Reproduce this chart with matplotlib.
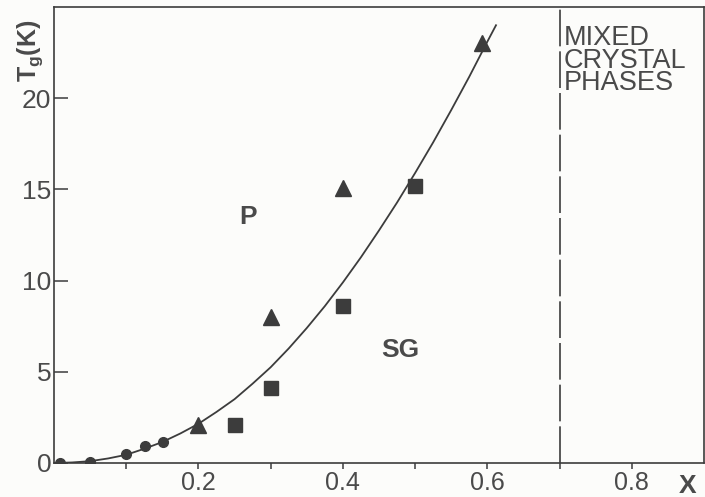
import matplotlib
matplotlib.use("Agg")
import matplotlib.pyplot as plt

# ---- data ----
circle_x = [0.008, 0.05, 0.10, 0.126, 0.151]
circle_y = [0.0, 0.05, 0.5, 0.95, 1.15]

triangle_x = [0.20, 0.30, 0.40, 0.592]
triangle_y = [2.1, 8.0, 15.1, 23.0]

square_x = [0.25, 0.30, 0.40, 0.50]
square_y = [2.1, 4.1, 8.6, 15.2]

curve_x = [0.0, 0.025, 0.05, 0.075, 0.10, 0.125, 0.15, 0.175, 0.20, 0.225,
           0.25, 0.275, 0.30, 0.325, 0.35, 0.375, 0.40, 0.425, 0.45, 0.475,
           0.50, 0.525, 0.55, 0.575, 0.60, 0.612]
curve_y = [0.0, 0.03, 0.1, 0.25, 0.45, 0.78, 1.15, 1.62, 2.15, 2.8,
           3.5, 4.35, 5.25, 6.28, 7.4, 8.6, 9.9, 11.28, 12.75, 14.28,
           15.9, 17.58, 19.35, 21.18, 23.1, 24.0]

boundary_x = 0.7

x_major = [0.2, 0.4, 0.6, 0.8]
x_major_labels = ["0.2", "0.4", "0.6", "0.8"]
x_minor = [0.1, 0.3, 0.5, 0.7]
y_ticks = [0, 5, 10, 15, 20]
y_labels = ["0", "5", "10", "15", "20"]

ink = "#3c3c3c"
txt = "#4a4a4a"
bg = "#fcfcfa"

plt.rcParams["font.family"] = ["Liberation Sans", "DejaVu Sans"]
plt.rcParams["mathtext.fontset"] = "custom"
plt.rcParams["mathtext.rm"] = "Liberation Sans:bold"

fig = plt.figure(figsize=(7.05, 4.97), dpi=100, facecolor=bg)
ax = fig.add_axes([54 / 705, (497 - 463) / 497, 650 / 705, 456 / 497])
ax.set_facecolor(bg)

ax.plot(curve_x, curve_y, color=ink, lw=1.3, zorder=2)
ax.plot(circle_x, circle_y, "o", color=ink, ms=7, mec=ink, zorder=3)
ax.plot(triangle_x, triangle_y, "^", color=ink, ms=12, mec=ink, zorder=3)
ax.plot(square_x, square_y, "s", color=ink, ms=10.5, mec=ink, zorder=3)

ax.axvline(boundary_x, color=ink, lw=1.2, dashes=(22, 3), zorder=1)

ax.set_xlim(0, 0.9)
ax.set_ylim(0, 25)

for s in ax.spines.values():
    s.set_color(ink)
    s.set_linewidth(1.2)

ax.set_xticks(x_major)
ax.set_xticklabels(x_major_labels)
ax.set_xticks(x_minor, minor=True)
ax.tick_params(axis="x", which="both", direction="out", length=4, width=1.1,
               color=ink, labelsize=18, labelcolor=txt, pad=2)
ax.set_yticks(y_ticks)
ax.set_yticklabels(y_labels)
ax.tick_params(axis="y", which="both", direction="in", length=10, width=1.1,
               color=ink, labelsize=19, labelcolor=txt, pad=2)

ax.text(0.269, 13.5, "P", fontsize=19, fontweight="bold", color=txt,
        ha="center", va="center")
ax.text(0.48, 6.2, "SG", fontsize=19, fontweight="bold", color=txt,
        ha="center", va="center")
ax.text(0.706, 24.0, "MIXED\nCRYSTAL\nPHASES", fontsize=19.5, color=txt,
        ha="left", va="top", linespacing=0.82)

ax.text(-0.037, 0.905, r"T$_\mathrm{g}$(K)", transform=ax.transAxes, rotation=90,
        fontsize=18, fontweight="bold", color=txt, ha="center", va="center")
ax.text(0.975, -0.05, "X", transform=ax.transAxes, fontsize=19,
        fontweight="bold", color=txt, ha="center", va="center")

fig.savefig("out.png", dpi=100, facecolor=bg)
